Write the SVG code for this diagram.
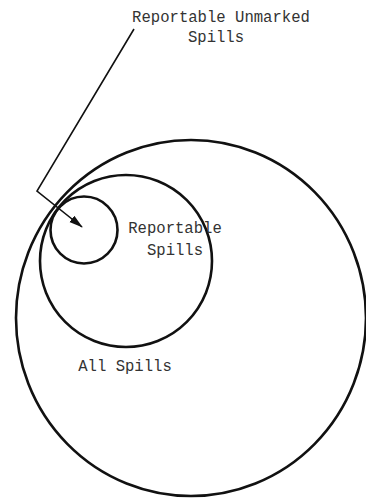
<svg xmlns="http://www.w3.org/2000/svg" width="366" height="499" viewBox="0 0 366 499">
<style>
.c{fill:none;stroke:#111;stroke-width:2.6}
.t{font-family:"Liberation Mono","DejaVu Sans Mono",monospace;font-size:15.6px;fill:#333}
.l{fill:none;stroke:#111;stroke-width:1.6}
</style>
<defs>
<marker id="ah" viewBox="0 0 14 10" refX="13" refY="5" markerWidth="14" markerHeight="10" markerUnits="userSpaceOnUse" orient="auto">
<path d="M0,1 L14,5 L0,9 Z" fill="#111"/>
</marker>
</defs>
<rect width="366" height="499" fill="#fff"/>
<g id="all-spills">
<ellipse class="c" cx="191" cy="318" rx="175" ry="178"/>
<text class="t" x="125" y="371" text-anchor="middle">All Spills</text>
</g>
<g id="reportable-spills">
<circle class="c" cx="126" cy="261" r="86"/>
<text class="t" x="175" y="233" text-anchor="middle">Reportable</text>
<text class="t" x="175" y="255" text-anchor="middle">Spills</text>
</g>
<g id="reportable-unmarked">
<circle class="c" cx="84" cy="230" r="33.5"/>
<text class="t" x="221" y="22" text-anchor="middle">Reportable Unmarked</text>
<text class="t" x="216" y="42" text-anchor="middle">Spills</text>
</g>
<g id="connectors">
<polyline class="l" points="134,29 37,191 82,227" marker-end="url(#ah)"/>
</g>
</svg>
